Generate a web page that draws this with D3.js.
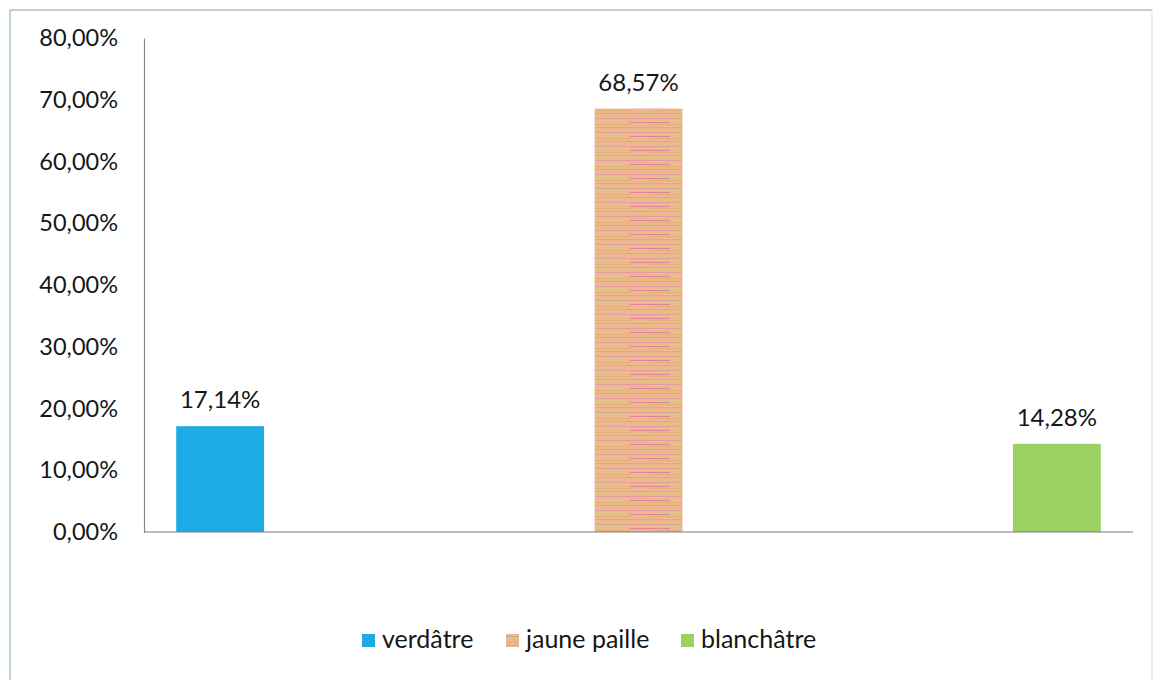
<!DOCTYPE html>
<html>
<head>
<meta charset="utf-8">
<script src="https://cdn.jsdelivr.net/npm/d3@7"></script>
<style>
  html, body { margin: 0; padding: 0; background: #fff; }
  svg { display: block; }
  text { font-family: Lato, "Open Sans", "DejaVu Sans", sans-serif; fill: #161616; }
</style>
</head>
<body>
<svg id="chart" width="1155" height="680"></svg>
<script>
// Colour shades of the samples (share of each, in %)
const series = ["verdâtre", "jaune paille", "blanchâtre"];
const values = [17.14, 68.57, 14.28];
const valueLabels = ["17,14%", "68,57%", "14,28%"];
const yTicks = [0, 10, 20, 30, 40, 50, 60, 70, 80];
const yTickLabels = ["0,00%", "10,00%", "20,00%", "30,00%", "40,00%", "50,00%", "60,00%", "70,00%", "80,00%"];

const svg = d3.select("#chart");

// Outer chart frame
const frame = svg.append("g").attr("stroke", "#9a9a9a").attr("stroke-width", 1.2).attr("fill", "none");
frame.append("line").attr("x1", 10).attr("y1", 10).attr("x2", 1152).attr("y2", 10);
frame.append("line").attr("x1", 10).attr("y1", 10).attr("x2", 10).attr("y2", 680).attr("stroke", "#8fb8c0");
frame.append("line").attr("x1", 1152).attr("y1", 10).attr("x2", 1152).attr("y2", 680).attr("stroke", "#e4e4e4");

// Striped fill for the "jaune paille" bar
const defs = svg.append("defs");
const pat = defs.append("pattern")
  .attr("id", "paille")
  .attr("patternUnits", "userSpaceOnUse")
  .attr("width", 90).attr("height", 14);
pat.append("rect").attr("width", 90).attr("height", 14).attr("fill", "#EDB98C");
const stripes = [
  { y: 1, h: 1, x: 0, w: 90, c: "#E8A0A0" },
  { y: 3, h: 1.5, x: 10, w: 60, c: "#DCC47A" },
  { y: 6, h: 1, x: 0, w: 90, c: "#E99AA6" },
  { y: 8, h: 1, x: 30, w: 55, c: "#D9C882" },
  { y: 10, h: 1, x: 0, w: 40, c: "#E4849C" },
  { y: 12, h: 1, x: 20, w: 70, c: "#E2B07A" }
];
stripes.forEach(s => pat.append("rect")
  .attr("x", s.x).attr("y", s.y).attr("width", s.w).attr("height", s.h).attr("fill", s.c));

const colors = ["#1EAAE4", "url(#paille)", "#9BD262"];

// Plot area
const x0 = 144, x1 = 1133, yBase = 532, yTop = 38;

const x = d3.scaleBand()
  .domain(series)
  .range([x0, x1])
  .paddingInner(0.79)
  .paddingOuter(0.077);

const y = d3.scaleLinear().domain([0, 80]).range([yBase, yTop]);

// Y axis
const yAxis = d3.axisLeft(y)
  .tickValues(yTicks)
  .tickSize(0)
  .tickPadding(26)
  .tickFormat((d, i) => yTickLabels[i]);

const gy = svg.append("g").attr("transform", `translate(${x0},0)`).call(yAxis);
gy.select(".domain").attr("stroke", "#8a8a8a").attr("stroke-width", 1.2);
gy.selectAll("text")
  .attr("font-size", 23.5)
  .attr("font-family", "Lato, 'Open Sans', sans-serif")
  .attr("fill", "#161616");

// Bars
svg.append("g").selectAll("rect")
  .data(values)
  .join("rect")
  .attr("x", (d, i) => x(series[i]))
  .attr("y", d => y(d))
  .attr("width", x.bandwidth())
  .attr("height", d => y(0) - y(d))
  .attr("fill", (d, i) => colors[i]);

// X baseline
svg.append("line")
  .attr("x1", x0).attr("x2", x1)
  .attr("y1", y(0)).attr("y2", y(0))
  .attr("stroke", "#7a7a7a").attr("stroke-width", 1.2);

// Value labels
svg.append("g").selectAll("text")
  .data(values)
  .join("text")
  .attr("x", (d, i) => x(series[i]) + x.bandwidth() / 2)
  .attr("y", d => y(d) - 18)
  .attr("text-anchor", "middle")
  .attr("font-size", 24)
  .text((d, i) => valueLabels[i]);

// Legend
const legendItems = [
  { sx: 362, tx: 382 },
  { sx: 506, tx: 526 },
  { sx: 681, tx: 701 }
];
const legendColors = ["#1EAAE4", "url(#paille)", "#9BD262"];
const lg = svg.append("g");
series.forEach((s, i) => {
  lg.append("rect")
    .attr("x", legendItems[i].sx).attr("y", 634)
    .attr("width", 13).attr("height", 13)
    .attr("fill", legendColors[i]);
  lg.append("text")
    .attr("x", legendItems[i].tx).attr("y", 648)
    .attr("font-size", 25)
    .text(s);
});
</script>
</body>
</html>
